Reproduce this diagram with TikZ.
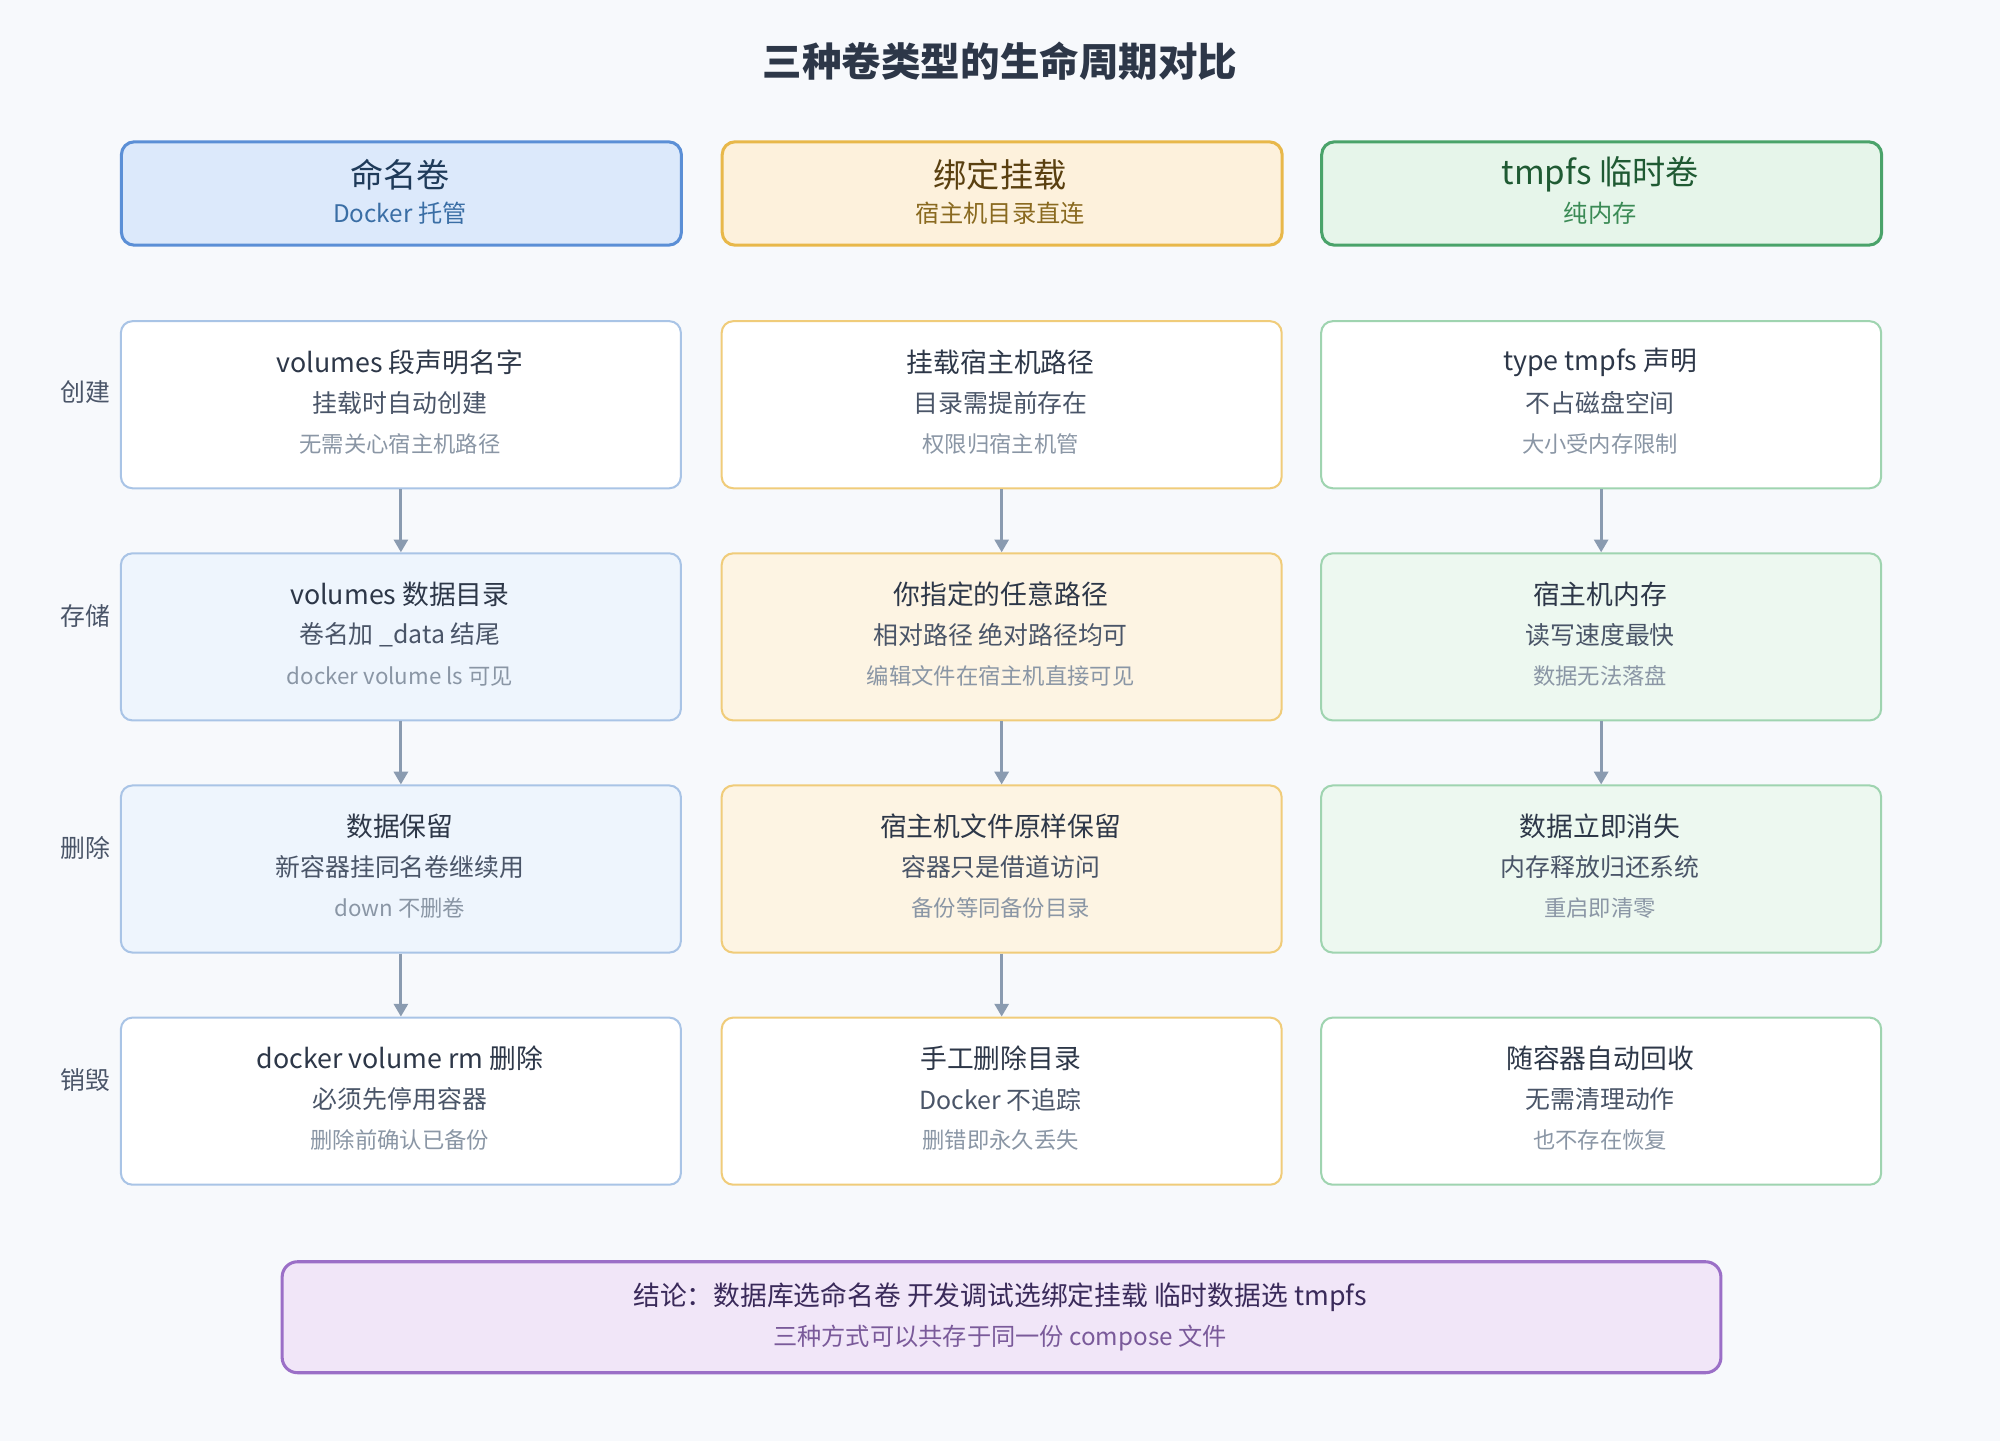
\documentclass[tikz,border=0pt]{standalone}
\usepackage{fontspec}
\setmainfont{Noto Sans CJK SC}
\usetikzlibrary{arrows.meta}
\definecolor{bg}{HTML}{F7F9FC}
\definecolor{tA}{HTML}{2D3748}\definecolor{tB}{HTML}{4A5568}\definecolor{tC}{HTML}{8A96A5}
\definecolor{bB}{HTML}{A9C4E6}\definecolor{fB}{HTML}{EEF5FD}\definecolor{hbB}{HTML}{5B8FD6}\definecolor{hfB}{HTML}{DCE9FB}
\definecolor{bO}{HTML}{F0CC7A}\definecolor{fO}{HTML}{FDF4E3}\definecolor{hbO}{HTML}{E8B84A}\definecolor{hfO}{HTML}{FDF1DC}
\definecolor{bG}{HTML}{9FD4B0}\definecolor{fG}{HTML}{EDF8F0}\definecolor{hbG}{HTML}{4AA36A}\definecolor{hfG}{HTML}{E6F5EA}
\definecolor{arr}{HTML}{8A9BB0}
\tikzset{
 box/.style={draw,line width=1.6pt,rounded corners=9pt,minimum width=439pt,minimum height=131pt,anchor=north west,inner sep=0},
 hbox/.style={draw,line width=2.4pt,rounded corners=10pt,minimum width=439pt,minimum height=81pt,anchor=north west,inner sep=0},
 la/.style={text=tA,font=\fontsize{21}{24}\selectfont},
 lb/.style={text=tB,font=\fontsize{19.5}{22}\selectfont},
 lc/.style={text=tC,font=\fontsize{17.5}{20}\selectfont},
 rl/.style={text=tB,font=\fontsize{19.5}{22}\selectfont},
 ar/.style={draw=arr,line width=2.2pt,-{Triangle[length=10pt,width=11pt]}}
}
\newcommand\cellbox[8]{%
 \node[box,draw=#4,fill=#5] (#1) at (#2,#3) {};
 \node[la] (#1a) at (#2+219.5,#3+33) {#6};
 \node[lb] (#1b) at (#2+219.5,#3+65) {#7};
 \node[lc] (#1c) at (#2+219.5,#3+97) {#8};}
\begin{document}
\begin{tikzpicture}[x=1pt,y=-1pt]
\fill[bg] (0,0) rectangle (1568,1130);
\useasboundingbox (0,0) rectangle (1568,1130);
\node[text=tA,font=\fontsize{31}{36}\selectfont\bfseries] (title) at (784,48) {三种卷类型的生命周期对比};
% headers
\node[hbox,draw=hbB,fill=hfB] (h1) at (94,110) {};
\node[text=HTML!0!black,font=\fontsize{26}{30}\selectfont,text={rgb,255:red,31;green,59;blue,90}] (h1a) at (313.5,137) {命名卷};
\node[font=\fontsize{19}{22}\selectfont,text={rgb,255:red,58;green,110;blue,165}] (h1b) at (313.5,167) {Docker 托管};
\node[hbox,draw=hbO,fill=hfO] (h2) at (565,110) {};
\node[font=\fontsize{26}{30}\selectfont,text={rgb,255:red,90;green,64;blue,16}] (h2a) at (784,137) {绑定挂载};
\node[font=\fontsize{19}{22}\selectfont,text={rgb,255:red,138;green,106;blue,32}] (h2b) at (784,167) {宿主机目录直连};
\node[hbox,draw=hbG,fill=hfG] (h3) at (1035,110) {};
\node[font=\fontsize{26}{30}\selectfont,text={rgb,255:red,31;green,90;blue,51}] (h3a) at (1254.5,137) {tmpfs 临时卷};
\node[font=\fontsize{19}{22}\selectfont,text={rgb,255:red,58;green,138;blue,85}] (h3b) at (1254.5,167) {纯内存};
% row labels
\node[rl] (l1) at (67,307) {创建};
\node[rl] (l2) at (67,483) {存储};
\node[rl] (l3) at (67,665) {删除};
\node[rl] (l4) at (67,847) {销毁};
% column 1
\cellbox{a1}{94}{251}{bB}{white}{volumes 段声明名字}{挂载时自动创建}{无需关心宿主机路径}
\cellbox{a2}{94}{433}{bB}{fB}{volumes 数据目录}{卷名加 \_data 结尾}{docker volume ls 可见}
\cellbox{a3}{94}{615}{bB}{fB}{数据保留}{新容器挂同名卷继续用}{down 不删卷}
\cellbox{a4}{94}{797}{bB}{white}{docker volume rm 删除}{必须先停用容器}{删除前确认已备份}
% column 2
\cellbox{b1}{565}{251}{bO}{white}{挂载宿主机路径}{目录需提前存在}{权限归宿主机管}
\cellbox{b2}{565}{433}{bO}{fO}{你指定的任意路径}{相对路径 绝对路径均可}{编辑文件在宿主机直接可见}
\cellbox{b3}{565}{615}{bO}{fO}{宿主机文件原样保留}{容器只是借道访问}{备份等同备份目录}
\cellbox{b4}{565}{797}{bO}{white}{手工删除目录}{Docker 不追踪}{删错即永久丢失}
% column 3
\cellbox{c1}{1035}{251}{bG}{white}{type tmpfs 声明}{不占磁盘空间}{大小受内存限制}
\cellbox{c2}{1035}{433}{bG}{fG}{宿主机内存}{读写速度最快}{数据无法落盘}
\cellbox{c3}{1035}{615}{bG}{fG}{数据立即消失}{内存释放归还系统}{重启即清零}
\cellbox{c4}{1035}{797}{bG}{white}{随容器自动回收}{无需清理动作}{也不存在恢复}
% arrows
\foreach \c in {a,b}{
 \draw[ar] (\c1.south) -- (\c2.north);
 \draw[ar] (\c2.south) -- (\c3.north);
 \draw[ar] (\c3.south) -- (\c4.north);}
\draw[ar] (c1.south) -- (c2.north);
\draw[ar] (c2.south) -- (c3.north);
% conclusion
\node[draw={rgb,255:red,155;green,111;blue,199},fill={rgb,255:red,241;green,230;blue,248},line width=2.4pt,rounded corners=12pt,minimum width=1128pt,minimum height=87pt,anchor=north west] (con) at (220,988) {};
\node[font=\fontsize{21}{24}\selectfont,text={rgb,255:red,58;green,42;blue,90}] (cona) at (784,1017) {结论：数据库选命名卷 开发调试选绑定挂载 临时数据选 tmpfs};
\node[font=\fontsize{19}{22}\selectfont,text={rgb,255:red,122;green,90;blue,154}] (conb) at (784,1049) {三种方式可以共存于同一份 compose 文件};
\end{tikzpicture}
\end{document}
